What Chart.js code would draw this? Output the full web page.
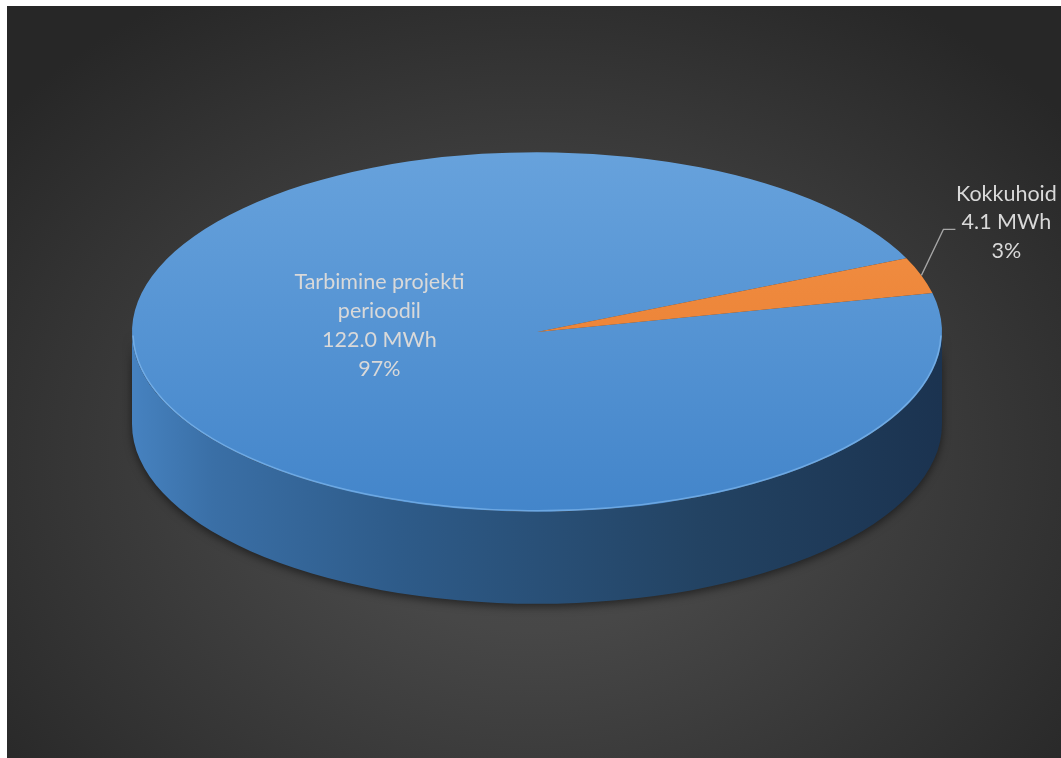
<!DOCTYPE html>
<html>
<head>
<meta charset="utf-8">
<script src="https://cdn.jsdelivr.net/npm/chart.js@4.4.1/dist/chart.umd.min.js"></script>
<style>
  html, body { margin: 0; padding: 0; background: #ffffff; overflow: hidden; }
  #wrap {
    position: absolute; left: 7px; top: 6px; width: 1054px; height: 752px;
    background: radial-gradient(ellipse 65% 72% at 50% 60%, #4d4d4d 0%, #474747 32%, #363636 68%, #272727 100%);
  }
  canvas { display: block; }
</style>
</head>
<body>
<div id="wrap"><canvas id="pieChart" width="1054" height="752"></canvas></div>
<script>
const categories = ['Tarbimine projekti perioodil', 'Kokkuhoid'];
const values = [122.0, 4.1];
const unit = 'MWh';
const sliceColors = [['#67a2dc', '#4385ca'], ['#f39448', '#e7762a']];

const TILT = 0.444;     // vertical squash of the pie top
const DEPTH = 92;       // height of the side wall
const total = values.reduce((a, b) => a + b, 0);

function frontParts(a0, a1) {
    const parts = [];
    for (let k = -1; k <= 1; k++) {
        const lo = Math.max(a0, 2 * Math.PI * k);
        const hi = Math.min(a1, Math.PI + 2 * Math.PI * k);
        if (hi > lo) parts.push([lo - 2 * Math.PI * k, hi - 2 * Math.PI * k]);
    }
    return parts;
}

function wrapText(ctx, text, maxW) {
    const words = text.split(' ');
    const lines = [];
    let cur = '';
    words.forEach(w => {
        const t = cur ? cur + ' ' + w : w;
        if (ctx.measureText(t).width > maxW && cur) { lines.push(cur); cur = w; }
        else cur = t;
    });
    if (cur) lines.push(cur);
    return lines;
}

const pie3d = {
    id: 'pie3d',
    beforeDatasetsDraw(chart) {
        const ctx = chart.ctx;
        const arcs = chart.getDatasetMeta(0).data;
        if (!arcs.length) return;
        const cx = arcs[0].x, cy = arcs[0].y, r = arcs[0].outerRadius, ry = r * TILT;

        // side wall (front half only)
        const grad = ctx.createLinearGradient(cx - r, 0, cx + r, 0);
        grad.addColorStop(0, '#4682c0');
        grad.addColorStop(0.1, '#3a6fa6');
        grad.addColorStop(0.33, '#2e5b89');
        grad.addColorStop(0.7, '#234363');
        grad.addColorStop(1, '#1b3350');
        ctx.save();
        ctx.shadowColor = 'rgba(0,0,0,0.5)';
        ctx.shadowBlur = 9;
        ctx.shadowOffsetY = 3;
        arcs.forEach(el => {
            frontParts(el.startAngle, el.endAngle).forEach(([s, e]) => {
                ctx.beginPath();
                ctx.ellipse(cx, cy, r, ry, 0, s, e, false);
                ctx.ellipse(cx, cy + DEPTH, r, ry, 0, e, s, true);
                ctx.closePath();
                ctx.fillStyle = grad;
                ctx.fill();
            });
        });
        ctx.restore();

        // squash the pie top into an ellipse
        ctx.save();
        ctx.translate(0, cy);
        ctx.scale(1, TILT);
        ctx.translate(0, -cy);
    },
    afterDatasetsDraw(chart) {
        const ctx = chart.ctx;
        ctx.restore();
        const arcs = chart.getDatasetMeta(0).data;
        const cx = arcs[0].x, cy = arcs[0].y, r = arcs[0].outerRadius, ry = r * TILT;

        // light rim on the front edge
        ctx.save();
        ctx.beginPath();
        ctx.ellipse(cx, cy, r - 1, ry - 1, 0, 0.02, Math.PI - 0.02, false);
        ctx.strokeStyle = 'rgba(140,195,245,0.55)';
        ctx.lineWidth = 1.5;
        ctx.stroke();
        ctx.restore();

        // data labels
        ctx.save();
        ctx.font = '21.5px Lato';
        ctx.fillStyle = '#d9d9d9';
        ctx.textAlign = 'center';
        ctx.textBaseline = 'middle';
        const lh = 29;
        arcs.forEach((el, i) => {
            const mid = (el.startAngle + el.endAngle) / 2;
            const pct = Math.round(values[i] / total * 100) + '%';
            const valTxt = values[i].toFixed(1) + ' ' + unit;
            if (values[i] / total > 0.5) {
                const lines = wrapText(ctx, categories[i], 210).concat([valTxt, pct]);
                const ax = cx + r * 0.41 * Math.cos(mid);
                const ay = cy + ry * 0.41 * Math.sin(mid) - 30;
                lines.forEach((t, j) => ctx.fillText(t, ax, ay + (j - (lines.length - 1) / 2) * lh));
            } else {
                const px = cx + r * Math.cos(mid), py = cy + ry * Math.sin(mid);
                const ex = px + 22, ey = py - 46;
                ctx.beginPath();
                ctx.moveTo(px, py);
                ctx.lineTo(ex, ey);
                ctx.lineTo(ex + 12, ey);
                ctx.strokeStyle = '#a6a6a6';
                ctx.lineWidth = 1.3;
                ctx.stroke();
                const lines = [categories[i], valTxt, pct];
                const lx = ex + 63, ly = ey - 7;
                lines.forEach((t, j) => ctx.fillText(t, lx, ly + (j - 1) * 28.5));
            }
        });
        ctx.restore();
    }
};

function faceColor(c) {
    const chart = c.chart;
    const pair = sliceColors[c.dataIndex];
    const a = chart.chartArea;
    if (!a) return pair[1];
    const cy = (a.top + a.bottom) / 2;
    const g = chart.ctx.createLinearGradient(0, cy - 405, 0, cy + 405);
    g.addColorStop(0, pair[0]);
    g.addColorStop(1, pair[1]);
    return g;
}

new Chart(document.getElementById('pieChart'), {
    type: 'pie',
    data: {
        labels: categories,
        datasets: [{ data: values, backgroundColor: faceColor, borderWidth: 0, clip: false }]
    },
    options: {
        responsive: false,
        animation: false,
        radius: 405,
        rotation: 77.5,
        layout: { padding: { left: 6, right: 0, top: 0, bottom: 100 } },
        plugins: { legend: { display: false }, tooltip: { enabled: false } }
    },
    plugins: [pie3d]
});
</script>
</body>
</html>
